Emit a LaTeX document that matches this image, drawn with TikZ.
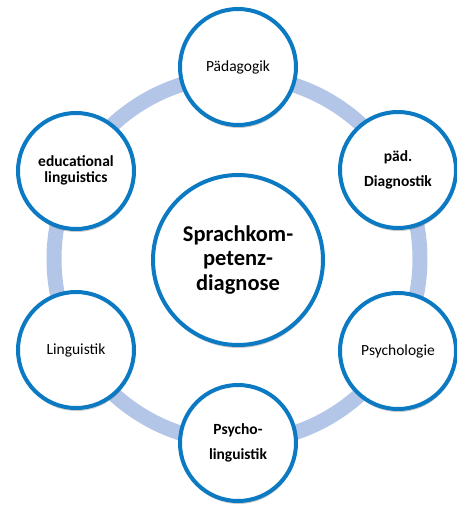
\documentclass[tikz,border=0pt]{standalone}
\usepackage{fontspec}
\setmainfont{Carlito}
\usetikzlibrary{shadows}
\definecolor{ringblue}{RGB}{180,198,231}
\definecolor{edgeblue}{RGB}{12,122,194}
\begin{document}
\begin{tikzpicture}[x=1pt,y=-1pt,
  topic/.style={circle, draw=edgeblue, line width=4pt, fill=white,
    minimum size=116pt, inner sep=0pt, align=center,
    drop shadow={shadow xshift=0.5pt, shadow yshift=-3pt, opacity=0.2, fill=black}},
  regtext/.style={font=\fontsize{15.5}{16.5}\selectfont},
  boldtight/.style={font=\fontsize{15.5}{16.5}\selectfont\bfseries},
  boldwide/.style={font=\fontsize{15.5}{25}\selectfont\bfseries},
  core/.style={topic, minimum size=170pt, font=\fontsize{22.5}{24.5}\selectfont\bfseries}
]
\useasboundingbox (0,0) rectangle (457,506);
\draw[ringblue, line width=15pt] (237,259) circle[radius=183pt];
\node[topic, regtext] (paed) at (238,67) {\raisebox{-3pt}{Pädagogik}};
\node[topic, boldwide] (diag) at (398,170) {päd.\\Diagnostik};
\node[topic, regtext] (psych) at (398,351) {Psychologie};
\node[topic, boldwide] (psyling) at (238,443) {Psycho-\\linguistik};
\node[topic, regtext] (ling) at (76,350) {Linguistik};
\node[topic, boldtight] (edu) at (76,171) {\raisebox{3pt}{\begin{tabular}{@{}c@{}}educational\\linguistics\end{tabular}}};
\node[core] (main) at (238,260) {Sprachkom-\\petenz-\\diagnose};
\end{tikzpicture}
\end{document}
